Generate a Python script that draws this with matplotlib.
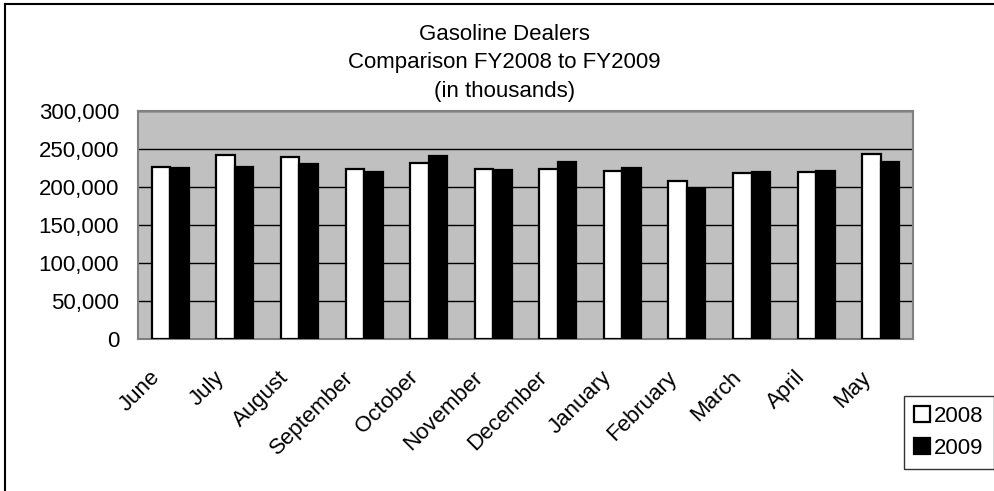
import matplotlib
matplotlib.use("Agg")
import matplotlib.pyplot as plt
from matplotlib.patches import Patch
from matplotlib.lines import Line2D
from matplotlib.ticker import FuncFormatter
from matplotlib.transforms import ScaledTranslation
import numpy as np

months = ["June", "July", "August", "September", "October", "November",
          "December", "January", "February", "March", "April", "May"]
fy2008 = [226800, 242500, 239500, 223200, 231100, 223700,
          224100, 220600, 208300, 218000, 219700, 243400]
fy2009 = [224600, 226300, 230300, 219700, 241200, 222800,
          232500, 225400, 196900, 219300, 221500, 232500]
series_names = ["2008", "2009"]
title_lines = ["Gasoline Dealers", "Comparison FY2008 to FY2009", "(in thousands)"]
yticks = [0, 50000, 100000, 150000, 200000, 250000, 300000]

plt.rcParams['font.family'] = ['Liberation Sans', 'DejaVu Sans']

W, H = 994, 491
fig = plt.figure(figsize=(W / 100, H / 100), dpi=100)
fig.patch.set_facecolor('white')

ax = fig.add_axes([138 / W, 1 - 339 / H, 775 / W, 228 / H])
ax.set_facecolor('#C0C0C0')

x = np.arange(len(months))
w = 0.286
ax.bar(x - w / 2, fy2008, width=w, color='white', edgecolor='black', linewidth=1.6, zorder=3)
ax.bar(x + w / 2, fy2009, width=w, color='black', edgecolor='black', linewidth=1.6, zorder=3)

ax.set_xlim(-0.5, len(months) - 0.5)
ax.set_ylim(0, 300000)
ax.set_yticks(yticks)
ax.yaxis.set_major_formatter(FuncFormatter(lambda v, p: f"{int(v):,}"))
ax.grid(axis='y', color='black', linewidth=1.0, zorder=1)
ax.set_axisbelow(True)
for s in ax.spines.values():
    s.set_color('#808080')
    s.set_linewidth(1.5)

ax.tick_params(axis='y', length=0, pad=13.5, labelsize=16, colors='black')
ax.set_xticks(x)
ax.set_xticklabels(months, rotation=45, ha='right', va='top', rotation_mode='anchor')
ax.tick_params(axis='x', length=0, pad=20, labelsize=16, colors='black')
offset = ScaledTranslation(-21 / 100, 0, fig.dpi_scale_trans)
for lab in ax.get_xticklabels():
    lab.set_transform(lab.get_transform() + offset)

baselines = [40, 68.3, 96.6]
for t, yy in zip(title_lines, baselines):
    fig.text(504.5 / W, 1 - yy / H, t, ha='center', va='baseline', fontsize=16, color='black')

handles = [Patch(facecolor='white', edgecolor='black', linewidth=1.6),
           Patch(facecolor='black', edgecolor='black', linewidth=1.6)]
leg = fig.legend(handles, series_names, loc='lower left',
                 bbox_to_anchor=(904 / W, 1 - 469 / H), bbox_transform=fig.transFigure,
                 borderaxespad=0, fancybox=False, shadow=False, frameon=True,
                 fontsize=16, handlelength=0.7, handleheight=0.7, handletextpad=0.2,
                 labelspacing=0.5, borderpad=0.45)
leg.get_frame().set_edgecolor('black')
leg.get_frame().set_linewidth(1.0)

# outer border (top and left)
fig.add_artist(Line2D([5 / W, 1], [1 - 4 / H, 1 - 4 / H], transform=fig.transFigure,
                      color='black', linewidth=1.5))
fig.add_artist(Line2D([5 / W, 5 / W], [1 - 4 / H, 0], transform=fig.transFigure,
                      color='black', linewidth=1.5))

fig.savefig('out.png', dpi=100, facecolor='white')
